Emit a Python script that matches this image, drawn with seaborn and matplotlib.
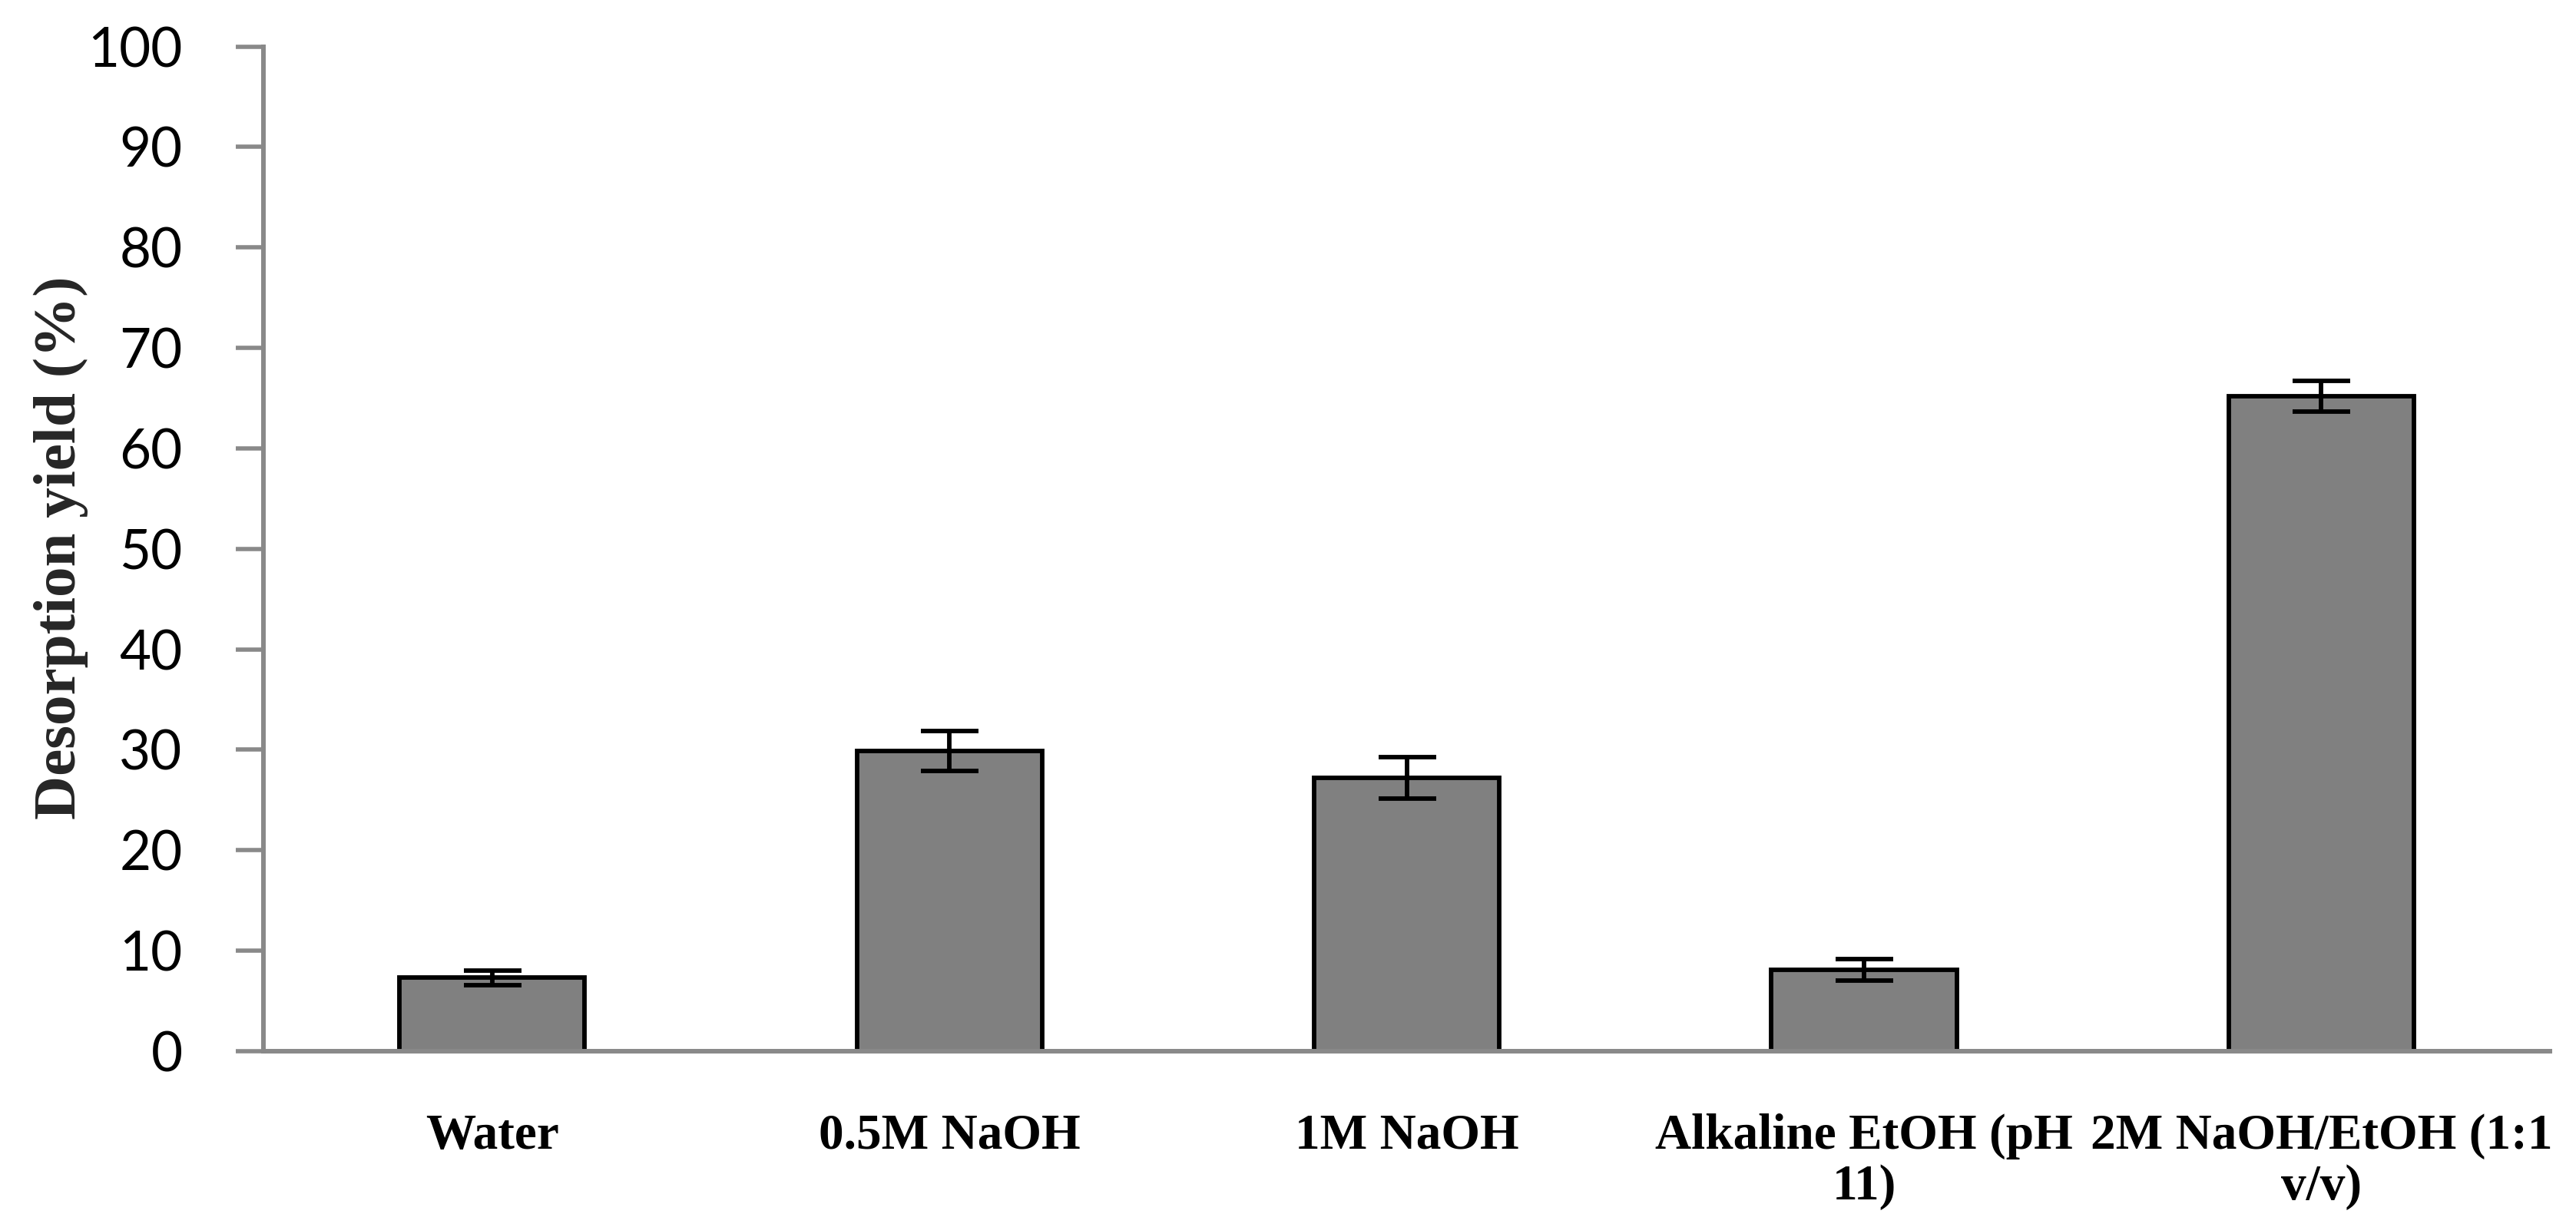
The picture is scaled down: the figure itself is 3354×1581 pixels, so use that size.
import matplotlib
matplotlib.use("Agg")
import matplotlib.pyplot as plt
import seaborn as sns
import pandas as pd
import numpy as np

categories = ["Water", "0.5M NaOH", "1M NaOH", "Alkaline EtOH (pH\n11)", "2M NaOH/EtOH (1:1\nv/v)"]
yield_values = [7.3, 29.9, 27.2, 8.1, 65.2]
yield_errors = [0.7, 2.0, 2.05, 1.1, 1.5]
y_ticks = [0, 10, 20, 30, 40, 50, 60, 70, 80, 90, 100]
y_label = "Desorption yield (%)"

sns.set_theme(style="white")
plt.rcParams['font.family'] = ['Lato', 'DejaVu Sans']

df = pd.DataFrame({"cat": categories, "val": yield_values})

fig = plt.figure(figsize=(33.54, 15.81), dpi=100)
ax = fig.add_axes([0.1023, 0.1341, 0.8876, 0.8276])

sns.barplot(data=df, x="cat", y="val", ax=ax, color="#808080", saturation=1,
            width=0.405, edgecolor="black", linewidth=4.2, errorbar=None)

ax.errorbar(x=np.arange(len(categories)), y=yield_values, yerr=yield_errors,
            fmt="none", ecolor="black", elinewidth=4.2, capsize=27, capthick=4.2, zorder=5)

ax.set_ylim(0, 100)
ax.set_xlim(-0.5, len(categories) - 0.5)
ax.set_yticks(y_ticks)
ax.set_yticklabels([str(t) for t in y_ticks], fontsize=51, color="black")

serif = ["Liberation Serif", "DejaVu Serif"]
# category boundary ticks
ax.set_xticks(np.arange(-0.5, len(categories), 1.0))
ax.set_xticklabels([])
ax.set_xticks(np.arange(len(categories)), minor=True)
ax.set_xticklabels(categories, minor=True, fontsize=47, fontweight="bold",
                   family=serif, color="black", linespacing=1.15)
ax.tick_params(axis="x", which="minor", length=0, pad=58)
ax.tick_params(axis="x", which="major", length=20, width=4, color="#898989", direction="out")
ax.tick_params(axis="y", which="major", length=26, width=4, color="#898989", direction="out", pad=50, left=True)

for s in ["top", "right"]:
    ax.spines[s].set_visible(False)
for s in ["left", "bottom"]:
    ax.spines[s].set_color("#898989")
    ax.spines[s].set_linewidth(4.3)

ax.set_xlabel("")
ax.set_ylabel("")
fig.text(0.0236, 0.549, y_label, rotation=90, ha="center", va="center",
         fontsize=57, fontweight="bold", family=serif)

fig.savefig("out.png", dpi=100, facecolor="white")
